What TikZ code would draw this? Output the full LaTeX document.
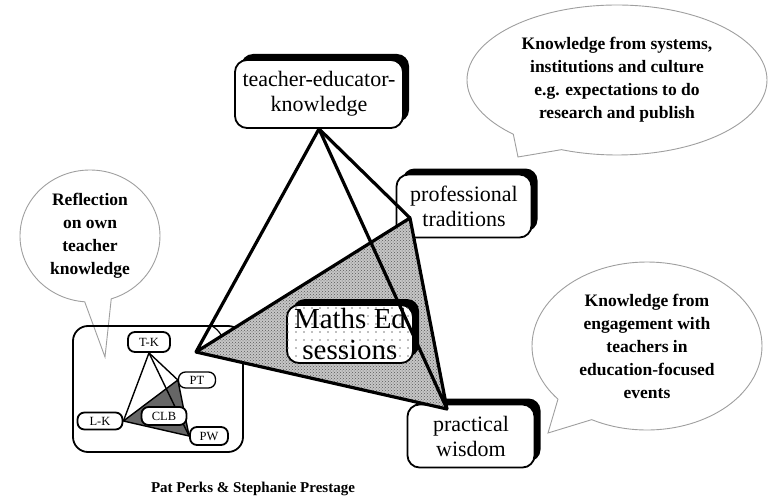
\documentclass[tikz,border=0pt]{standalone}
\usepackage{fontspec}
\setmainfont{Liberation Serif}
\usepackage{tikz}
\usetikzlibrary{shapes.callouts,shadows,patterns,calc,backgrounds}

\pgfdeclarepatternformonly{sparse dots}{\pgfqpoint{-1pt}{-1pt}}{\pgfqpoint{1pt}{1pt}}{\pgfqpoint{8pt}{8pt}}{%
  \pgfpathcircle{\pgfqpoint{0pt}{0pt}}{0.8pt}\pgfusepath{fill}}

\tikzset{
  kbox/.style={draw, line width=1.8pt, rounded corners=12pt, fill=white, align=center, inner sep=0pt,
    drop shadow={shadow xshift=6pt, shadow yshift=6pt, fill=black, opacity=1},
    font=\fontsize{22}{25}\selectfont},
  sbox/.style={draw, line width=1.8pt, rounded corners=7pt, fill=white, inner sep=0pt,
    font=\fontsize{12.5}{13}\selectfont},
  bubble/.style={ellipse callout, draw=gray!75, line width=0.9pt, fill=white, inner sep=0pt,
    align=center, callout pointer arc=22, font=\bfseries\fontsize{17.5}{23}\selectfont},
  edge/.style={line width=3.2pt, line join=round},
  sedge/.style={line width=1.4pt, line join=round}
}

\begin{document}
\begin{tikzpicture}[x=1pt,y=-1pt]
\useasboundingbox (0,0) rectangle (768,500);

% speech bubbles
\node[bubble, minimum width=300, minimum height=150, callout absolute pointer={(518,157)}] (sys) at (617,80)
  {Knowledge from systems,\\institutions and culture\\e.g. expectations to do\\research and publish};
\node[bubble, minimum width=140, minimum height=132, callout absolute pointer={(105,357)}] (refl) at (90,236)
  {Reflection\\on own\\teacher\\knowledge};
\node[bubble, minimum width=230, minimum height=168, callout absolute pointer={(548,433)}] (eng) at (647,346)
  {Knowledge from\\engagement with\\teachers in\\education-focused\\events};

% small copy of the model
\node[draw, line width=1.8pt, rounded corners=15pt, minimum width=170, minimum height=126] (frame) at (158,389) {};
\node[sbox, minimum width=42, minimum height=20] (tk) at (149,342) {T-K};
\node[sbox, line width=1.3pt, minimum width=37, minimum height=16] (pt) at (197,380) {PT};
\node[sbox, minimum width=45, minimum height=17] (lk) at (100,421) {L-K};
\node[sbox, minimum width=45, minimum height=18] (clb) at (164,416) {CLB};
\node[sbox, minimum width=38, minimum height=18] (pw) at (209,436) {PW};
\begin{scope}[on background layer]
  \fill[black!60] (lk.east) -- (pt.west) -- (pw.west) -- cycle;
  \draw[sedge] (lk.east) -- (pt.west) -- (pw.west) -- cycle;
  \draw[sedge] (tk.south) -- (lk.east);
  \draw[sedge] (tk.south) -- (pt.west);
  \draw[sedge] (tk.south) -- (pw.west);
\end{scope}

% main model
\node[kbox, minimum width=168, minimum height=68] (tek) at (319,94) {teacher-educator-\\knowledge};
\node[kbox, minimum width=135, minimum height=63] (prt) at (464,206) {professional\\traditions};
\node[kbox, minimum width=127, minimum height=63] (prw) at (471,436) {practical\\wisdom};

\coordinate (lv) at (196,352);
\coordinate (ptv) at (410,218);
\coordinate (pwv) at (447,409);

\fill[gray!45] (lv) -- (ptv) -- (pwv) -- cycle;
\fill[pattern=crosshatch dots, pattern color=black!65] (lv) -- (ptv) -- (pwv) -- cycle;

\node[kbox, minimum width=126, minimum height=58, font=\fontsize{29}{31}\selectfont,
  postaction={pattern=sparse dots, pattern color=gray}] (med) at (350,334) {Maths Ed\\sessions};

\draw[edge] (tek.south) -- (lv) -- (ptv) -- (pwv) -- cycle;
\draw[edge] (tek.south) -- (ptv);
\draw[edge] (lv) -- (pwv);
\draw[line width=1.2pt] ($(lv)!0.12!(tek.south)$) to[bend left=15] ($(lv)!0.12!(ptv)$);

\node[font=\bfseries\fontsize{15}{18}\selectfont] (auth) at (253,489) {Pat Perks \& Stephanie Prestage};
\end{tikzpicture}
\end{document}
